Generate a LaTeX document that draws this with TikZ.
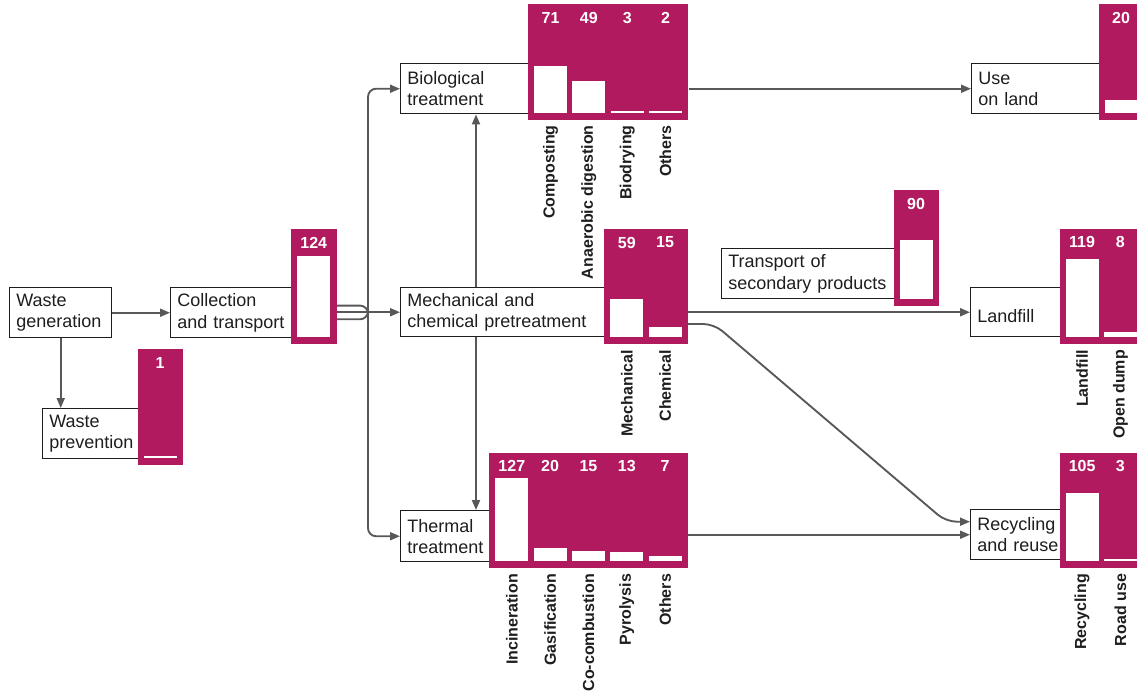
\documentclass[tikz,border=0pt]{standalone}
\usepackage{fontspec}
\setmainfont{Liberation Sans}
\usetikzlibrary{arrows.meta}
\definecolor{mag}{RGB}{178,26,96}
\definecolor{linegray}{RGB}{88,88,90}
\definecolor{ink}{RGB}{30,30,30}
\tikzset{
  box/.style 2 args={draw=ink, line width=1.1pt, fill=white, anchor=north west,
    inner ysep=0pt, inner xsep=4.9pt, minimum height=#2*0.75pt,
    text width=#1*0.75pt-9.8pt, align=left, text=ink,
    font=\fontsize{13.5}{16}\selectfont},
  panel/.style 2 args={fill=mag, draw=none, anchor=north west, inner sep=0pt,
    minimum width=#1*0.75pt, minimum height=#2*0.75pt},
  bar/.style={fill=white, draw=none},
  num/.style={text=white, inner sep=0pt, font=\fontsize{12}{14}\selectfont\bfseries},
  lab/.style={text=ink, inner sep=0pt, rotate=90, anchor=east,
    font=\fontsize{12}{14}\selectfont\bfseries},
  arr/.style={draw=linegray, line width=1.4pt, -{Triangle[length=7.5pt,width=6pt]}}
}
\begin{document}
\begin{tikzpicture}[x=0.75pt,y=0.75pt,yscale=-1,xscale=1]
\clip (0,0) rectangle (1137,690);

% Text Node
\node[box={102}{50}] (gen) at (9,287) {Waste\\generation};
% Text Node
\node[box={100}{50}] (prev) at (42,408) {Waste\\prevention};
% Text Node
\node[box={125}{50}] (coll) at (170,287) {Collection\\and transport};
% Text Node
\node[box={130}{50}] (bio) at (400,63) {Biological\\treatment};
% Text Node
\node[box={206}{49}] (mech) at (400,287) {Mechanical and\\chemical pretreatment};
% Text Node
\node[box={95}{51}] (therm) at (400,510) {Thermal\\treatment};
% Text Node
\node[box={174}{50}] (trans) at (721,248) {Transport of\\secondary products};
% Text Node
\node[box={130}{50}] (use) at (971,63) {Use\\on land};
% Text Node
\node[box={100}{49}] (land) at (970,287) {\mbox{}\\Landfill};
% Text Node
\node[box={100}{50}] (recy) at (970,509) {Recycling\\and reuse};

%Shape: Panels
\node[panel={45.3}{115.5}] (prevP) at (137.3,349) {};
\node[panel={45.3}{115.5}] (collP) at (291,228.5) {};
\node[panel={160.3}{115.5}] (bioP) at (527.7,4) {};
\node[panel={83.7}{115.5}] (mechP) at (604,228.5) {};
\node[panel={198.7}{115.5}] (thermP) at (489,452.3) {};
\node[panel={45.3}{115.5}] (transP) at (893.3,190) {};
\node[panel={45.3}{115.5}] (useP) at (1098.3,4) {};
\node[panel={83.7}{115.5}] (landP) at (1059.3,228.3) {};
\node[panel={83.7}{115.5}] (recyP) at (1059.3,452.3) {};

%Shape: Bars
\draw[bar] (143.6,457.5) rectangle (176.6,456);
\draw[bar] (297.3,337) rectangle (330.3,256.4);
\draw[bar] (534,112.5) rectangle (567,66.3);
\draw[bar] (572.3,112.5) rectangle (605.3,80.6);
\draw[bar] (610.7,112.5) rectangle (643.7,110.5);
\draw[bar] (649,112.5) rectangle (682,111);
\draw[bar] (610.3,337) rectangle (643.3,298.6);
\draw[bar] (648.6,337) rectangle (681.6,327.3);
\draw[bar] (495.3,560.8) rectangle (528.3,478.2);
\draw[bar] (533.6,560.8) rectangle (566.6,547.8);
\draw[bar] (571.9,560.8) rectangle (604.9,551);
\draw[bar] (610.3,560.8) rectangle (643.3,552.3);
\draw[bar] (648.6,560.8) rectangle (681.6,556.2);
\draw[bar] (899.6,298.5) rectangle (932.6,240);
\draw[bar] (1104.6,112.5) rectangle (1137.6,99.5);
\draw[bar] (1065.6,336.8) rectangle (1098.6,259.4);
\draw[bar] (1103.9,336.8) rectangle (1136.9,331.6);
\draw[bar] (1065.6,560.8) rectangle (1098.6,492.5);
\draw[bar] (1103.9,560.8) rectangle (1136.9,558.8);

% Text Node: values
\node[num] (prevN) at (160.1,363) {1};
\node[num] (collN) at (313.8,242.5) {124};
\node[num] (bioN1) at (550.5,18) {71};
\node[num] (bioN2) at (588.8,18) {49};
\node[num] (bioN3) at (627.2,18) {3};
\node[num] (bioN4) at (665.5,18) {2};
\node[num] (mechN1) at (626.8,242.5) {59};
\node[num] (mechN2) at (665.1,242.5) {15};
\node[num] (thermN1) at (511.8,466.3) {127};
\node[num] (thermN2) at (550.1,466.3) {20};
\node[num] (thermN3) at (588.4,466.3) {15};
\node[num] (thermN4) at (626.8,466.3) {13};
\node[num] (thermN5) at (665.1,466.3) {7};
\node[num] (transN) at (916.1,204) {90};
\node[num] (useN) at (1121.1,18) {20};
\node[num] (landN1) at (1082.1,242.3) {119};
\node[num] (landN2) at (1120.4,242.3) {8};
\node[num] (recyN1) at (1082.1,466.3) {105};
\node[num] (recyN2) at (1120.4,466.3) {3};

% Text Node: categories
\node[lab] (bioL1) at (550.5,125) {Composting};
\node[lab] (bioL2) at (588.8,125) {Anaerobic digestion};
\node[lab] (bioL3) at (627.2,125) {Biodrying};
\node[lab] (bioL4) at (665.5,125) {Others};
\node[lab] (mechL1) at (626.8,350) {Mechanical};
\node[lab] (mechL2) at (665.1,350) {Chemical};
\node[lab] (thermL1) at (511.8,573.8) {Incineration};
\node[lab] (thermL2) at (550.1,573.8) {Gasification};
\node[lab] (thermL3) at (588.4,573.8) {Co-combustion};
\node[lab] (thermL4) at (626.8,573.8) {Pyrolysis};
\node[lab] (thermL5) at (665.1,573.8) {Others};
\node[lab] (landL1) at (1082.1,349.8) {Landfill};
\node[lab] (landL2) at (1120.4,349.8) {Open dump};
\node[lab] (recyL1) at (1082.1,573.8) {Recycling};
\node[lab] (recyL2) at (1120.4,573.8) {Road use};

%Straight Lines
\coordinate (split) at (368,0);
\coordinate (vx) at (476,0);
\coordinate (k1) at (714,324);
\coordinate (k2) at (946,521.7);
\coordinate (o2) at (collP.east |- mech.west);
\draw[arr] (gen) -- (coll);
\draw[arr] (gen.south) -- (gen.south |- prev.north);
\draw[arr] (o2) -- (mech.west);
\draw[arr, rounded corners=6pt] ([yshift=5.3pt]o2) -| (split |- bio.west) -- (bio.west);
\draw[arr, rounded corners=6pt] ([yshift=-5pt]o2) -| (split |- therm.west) -- (therm.west);
\draw[arr] (mech.north -| vx) -- (bio.south -| vx);
\draw[arr] (mech.south -| vx) -- (therm.north -| vx);
\draw[arr] (bioP.east |- use.west) -- (use.west);
\draw[arr] (mechP.east |- land.west) -- (land.west);
\draw[arr, rounded corners=8pt] (mechP.east |- k1) -- (k1) -- (k2) -- (recy.west |- k2);
\draw[arr] (thermP.east |- recy.west) -- (recy.west);

\end{tikzpicture}
\end{document}
